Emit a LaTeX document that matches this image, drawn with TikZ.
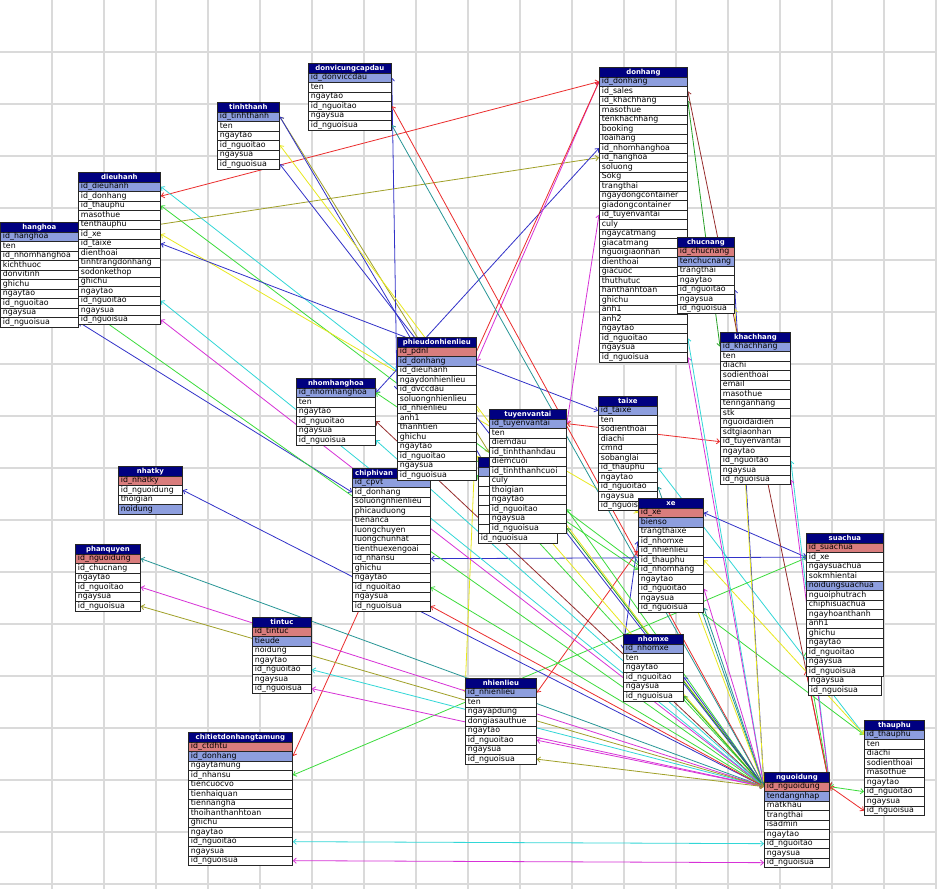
\documentclass[tikz,border=0pt]{standalone}
\usepackage{fontspec}
\newfontfamily\tblfont{DejaVu Sans}
\usetikzlibrary{arrows.meta}

\definecolor{navyhead}{RGB}{0,0,128}
\definecolor{pkfill}{RGB}{217,125,125}
\definecolor{fkfill}{RGB}{141,158,222}
\definecolor{gridgray}{RGB}{218,218,218}
\definecolor{lnred}{RGB}{235,45,45}
\definecolor{lngreen}{RGB}{60,220,60}
\definecolor{lnblue}{RGB}{50,50,200}
\definecolor{lncyan}{RGB}{50,215,215}
\definecolor{lnmag}{RGB}{215,50,215}
\definecolor{lnyel}{RGB}{232,232,30}
\definecolor{lnolive}{RGB}{160,160,40}
\definecolor{lnteal}{RGB}{40,150,150}
\definecolor{lnbrown}{RGB}{150,45,45}
\definecolor{lndgreen}{RGB}{40,160,40}

\pgfdeclarelayer{grid}
\pgfdeclarelayer{links}
\pgfsetlayers{grid,links,main}

\newcommand{\rowfont}{\tblfont\fontsize{5.9}{6.5}\selectfont}
\newcommand{\headfont}{\tblfont\bfseries\fontsize{5.2}{6}\selectfont}

\tikzset{
  tblhead/.style={draw=black!85, fill=navyhead, text=white, font=\headfont,
    anchor=north west, minimum height=7.125pt, inner sep=0pt, line width=0.6pt},
  tblrow/.style={draw=black!85, fill=white, font=\rowfont, anchor=north west,
    minimum height=7.125pt, inner xsep=1.875pt, inner ysep=0pt, align=left,
    text height=4.2pt, text depth=1.3pt, line width=0.6pt},
  plainrow/.style={},
  pkrow/.style={fill=pkfill},
  fkrow/.style={fill=fkfill},
  gridline/.style={gridgray, line width=1.1pt},
  link/.style={{Straight Barb[length=2.2pt,width=4pt]}-{Straight Barb[length=2.2pt,width=4pt]}, line width=0.6pt}
}

% #1 name, #2 left, #3 top, #4 width (px), #5 title, #6 rows
\newcommand{\dbtable}[6]{%
  \pgfmathsetmacro{\tblW}{#4*0.75}%
  \pgfmathsetmacro{\tblw}{(#4-5)*0.75}%
  \node[tblhead, minimum width=\tblW pt] (#1-0) at (#2,#3) {#5};
  \foreach \st/\tx [count=\i] in {#6} {
    \node[tblrow, \st, text width=\tblw pt] (#1-\i) at (#2,{#3+9.5*\i}) {\tx};
  }%
}

\begin{document}
\begin{tikzpicture}[x=0.75pt, y=-0.75pt]
\useasboundingbox (0,0) rectangle (937,889);

\begin{pgfonlayer}{grid}
  \fill[white] (0,0) rectangle (937,889);
  \foreach \g in {52,104,...,936} \draw[gridline] (\g,0) -- (\g,889);
  \foreach \g in {52,104,...,884} \draw[gridline] (0,\g) -- (937,\g);
\end{pgfonlayer}

\dbtable{hh}{0}{222}{78}{hanghoa}{fkrow/id\_hanghoa, plainrow/ten, plainrow/id\_nhomhanghoa, plainrow/kichthuoc, plainrow/donvitinh, plainrow/ghichu, plainrow/ngaytao, plainrow/id\_nguoitao, plainrow/ngaysua, plainrow/id\_nguoisua}
\dbtable{dh}{78}{172}{82}{dieuhanh}{fkrow/id\_dieuhanh, plainrow/id\_donhang, plainrow/id\_thauphu, plainrow/masothue, plainrow/tenthauphu, plainrow/id\_xe, plainrow/id\_taixe, plainrow/dienthoai, plainrow/tinhtrangdonhang, plainrow/sodonkethop, plainrow/ghichu, plainrow/ngaytao, plainrow/id\_nguoitao, plainrow/ngaysua, plainrow/id\_nguoisua}
\dbtable{tt}{217}{102}{62}{tinhthanh}{fkrow/id\_tinhthanh, plainrow/ten, plainrow/ngaytao, plainrow/id\_nguoitao, plainrow/ngaysua, plainrow/id\_nguoisua}
\dbtable{dv}{308}{63}{83}{donvicungcapdau}{fkrow/id\_donviccdau, plainrow/ten, plainrow/ngaytao, plainrow/id\_nguoitao, plainrow/ngaysua, plainrow/id\_nguoisua}
\dbtable{don}{599}{67}{88}{donhang}{fkrow/id\_donhang, plainrow/id\_sales, plainrow/id\_khachhang, plainrow/masothue, plainrow/tenkhachhang, plainrow/booking, plainrow/loaihang, plainrow/id\_nhomhanghoa, plainrow/id\_hanghoa, plainrow/soluong, plainrow/Sokg, plainrow/trangthai, plainrow/ngaydongcontainer, plainrow/giadongcontainer, plainrow/id\_tuyenvantai, plainrow/culy, plainrow/ngaycatmang, plainrow/giacatmang, plainrow/nguoigiaonhan, plainrow/dienthoai, plainrow/giacuoc, plainrow/thuthutuc, plainrow/hanthanhtoan, plainrow/ghichu, plainrow/anh1, plainrow/anh2, plainrow/ngaytao, plainrow/id\_nguoitao, plainrow/ngaysua, plainrow/id\_nguoisua}
\dbtable{cn}{677}{237}{57}{chucnang}{pkrow/id\_chucnang, fkrow/tenchucnang, plainrow/trangthai, plainrow/ngaytao, plainrow/id\_nguoitao, plainrow/ngaysua, plainrow/id\_nguoisua}
\dbtable{kh}{720}{332}{70}{khachhang}{fkrow/id\_khachhang, plainrow/ten, plainrow/diachi, plainrow/sodienthoai, plainrow/email, plainrow/masothue, plainrow/tennganhang, plainrow/stk, plainrow/nguoidaidien, plainrow/sdtgiaonhan, plainrow/id\_tuyenvantai, plainrow/ngaytao, plainrow/id\_nguoitao, plainrow/ngaysua, plainrow/id\_nguoisua}
\dbtable{cp}{352}{468}{78}{chiphivan\hspace*{26pt}}{fkrow/id\_cpvt, plainrow/id\_donhang, plainrow/soluongnhienlieu, plainrow/phicauduong, plainrow/tienanca, plainrow/luongchuyen, plainrow/luongchunhat, plainrow/tienthuexengoai, plainrow/id\_nhansu, plainrow/ghichu, plainrow/ngaytao, plainrow/id\_nguoitao, plainrow/ngaysua, plainrow/id\_nguoisua}
\dbtable{pd}{397}{337}{79}{phieudonhienlieu}{pkrow/id\_pdnl, fkrow/id\_donhang, plainrow/id\_dieuhanh, plainrow/ngaydonhienlieu, plainrow/id\_dvccdau, plainrow/soluongnhienlieu, plainrow/id\_nhienlieu, plainrow/anh1, plainrow/thanhtien, plainrow/ghichu, plainrow/ngaytao, plainrow/id\_nguoitao, plainrow/ngaysua, plainrow/id\_nguoisua}
\dbtable{nh}{296}{378}{79}{nhomhanghoa}{fkrow/id\_nhomhanghoa, plainrow/ten, plainrow/ngaytao, plainrow/id\_nguoitao, plainrow/ngaysua, plainrow/id\_nguoisua}
\dbtable{an}{478}{457}{79}{}{fkrow/{}, plainrow/{}, plainrow/{}, plainrow/{}, plainrow/{}, plainrow/{}, plainrow/{}, plainrow/id\_nguoisua}
\dbtable{tv}{489}{409}{77}{tuyenvantai}{fkrow/id\_tuyenvantai, plainrow/ten, plainrow/diemdau, plainrow/id\_tinhthanhdau, plainrow/diemcuoi, plainrow/id\_tinhthanhcuoi, plainrow/culy, plainrow/thoigian, plainrow/ngaytao, plainrow/id\_nguoitao, plainrow/ngaysua, plainrow/id\_nguoisua}
\dbtable{tx}{598}{396}{59}{taixe}{fkrow/id\_taixe, plainrow/ten, plainrow/sodienthoai, plainrow/diachi, plainrow/cmnd, plainrow/sobanglai, plainrow/id\_thauphu, plainrow/ngaytao, plainrow/id\_nguoitao, plainrow/ngaysua, plainrow/id\_nguoisua}
\dbtable{nk}{118}{466}{64}{nhatky}{pkrow/id\_nhatky, plainrow/id\_nguoidung, plainrow/thoigian, fkrow/noidung}
\dbtable{pq}{75}{544}{65}{phanquyen}{pkrow/id\_nguoidung, plainrow/id\_chucnang, plainrow/ngaytao, plainrow/id\_nguoitao, plainrow/ngaysua, plainrow/id\_nguoisua}
\dbtable{xe}{638}{498}{65}{xe}{pkrow/id\_xe, fkrow/bienso, plainrow/trangthaixe, plainrow/id\_nhomxe, plainrow/id\_nhienlieu, plainrow/id\_thauphu, plainrow/id\_nhomhang, plainrow/ngaytao, plainrow/id\_nguoitao, plainrow/ngaysua, plainrow/id\_nguoisua}
\dbtable{ns}{808}{542.5}{73}{}{pkrow/{}, plainrow/{}, plainrow/{}, plainrow/{}, plainrow/{}, plainrow/{}, plainrow/{}, plainrow/{}, plainrow/{}, plainrow/{}, plainrow/{}, plainrow/{}, plainrow/{}, plainrow/ngaysua, plainrow/id\_nguoisua}
\dbtable{sc}{806}{533}{77}{suachua}{pkrow/id\_suachua, plainrow/id\_xe, plainrow/ngaysuachua, plainrow/sokmhientai, fkrow/noidungsuachua, plainrow/nguoiphutrach, plainrow/chiphisuachua, plainrow/ngayhoanthanh, plainrow/anh1, plainrow/ghichu, plainrow/ngaytao, plainrow/id\_nguoitao, plainrow/ngaysua, plainrow/id\_nguoisua}
\dbtable{ti}{252}{617}{59}{tintuc}{pkrow/id\_tintuc, fkrow/tieude, plainrow/noidung, plainrow/ngaytao, plainrow/id\_nguoitao, plainrow/ngaysua, plainrow/id\_nguoisua}
\dbtable{nl}{465}{678}{71}{nhienlieu}{fkrow/id\_nhienlieu, plainrow/ten, plainrow/ngayapdung, plainrow/dongiasauthue, plainrow/ngaytao, plainrow/id\_nguoitao, plainrow/ngaysua, plainrow/id\_nguoisua}
\dbtable{nx}{623}{634}{60}{nhomxe}{fkrow/id\_nhomxe, plainrow/ten, plainrow/ngaytao, plainrow/id\_nguoitao, plainrow/ngaysua, plainrow/id\_nguoisua}
\dbtable{ct}{188}{732}{104}{chitietdonhangtamung}{pkrow/id\_ctdhtu, fkrow/id\_donhang, plainrow/ngaytamung, plainrow/id\_nhansu, plainrow/tiencuocvo, plainrow/tienhaiquan, plainrow/tiennangha, plainrow/thoihanthanhtoan, plainrow/ghichu, plainrow/ngaytao, plainrow/id\_nguoitao, plainrow/ngaysua, plainrow/id\_nguoisua}
\dbtable{nd}{764}{772}{65}{nguoidung}{pkrow/id\_nguoidung, fkrow/tendangnhap, plainrow/matkhau, plainrow/trangthai, plainrow/isadmin, plainrow/ngaytao, plainrow/id\_nguoitao, plainrow/ngaysua, plainrow/id\_nguoisua}
\dbtable{tp}{864}{720}{60}{thauphu}{fkrow/id\_thauphu, plainrow/ten, plainrow/diachi, plainrow/sodienthoai, plainrow/masothue, plainrow/ngaytao, plainrow/id\_nguoitao, plainrow/ngaysua, plainrow/id\_nguoisua}

\begin{pgfonlayer}{links}
  % keys between tables
  \draw[link, lnred] (dh-2.east) -- (don-1.west);
  \draw[link, lncyan] (dh-1.east) -- (pd-3.west);
  \draw[link, lngreen] (dh-3.east) -- (tp-1.west);
  \draw[link, lnolive] (hh-1.east) -- (don-9.west);
  \draw[link, lnyel] (dh-6.east) -- (xe-1.west);
  \draw[link, lnblue] (dh-7.east) -- (tx-1.west);
  \draw[link, lnblue] (nh-1.east) -- (don-8.west);
  \draw[link, lnolive] (tt-1.east) -- (tv-4.west);
  \draw[link, lnblue] (tt-1.east) -- (tv-6.west);
  \draw[link, lnblue] (dv-1.east) -- (pd-5.west);
  \draw[link, lnmag] (pd-2.east) -- (don-1.west);
  \draw[link, lnyel] (pd-7.east) -- (nl-1.west);
  \draw[link, lndgreen] (don-3.east) -- (kh-1.west);
  \draw[link, lnmag] (don-15.west) -- (tv-1.east);
  \draw[link, lnred] (kh-11.west) -- (tv-1.east);
  \draw[link, lncyan] (tx-7.east) -- (tp-1.west);
  \draw[link, lnblue] (xe-1.east) -- (sc-2.west);
  \draw[link, lnyel] (xe-6.east) -- (tp-1.west);
  \draw[link, lnblue] (xe-4.west) -- (nx-1.west);
  \draw[link, lnred] (xe-5.west) -- (nl-1.east);
  \draw[link, lngreen] (xe-7.west) -- (nh-1.east);
  \draw[link, lnblue] (hh-10.east) -- (cp-2.west);
  \draw[link, lnred] (ct-2.east) -- (don-1.west);
  \draw[link, lngreen] (ct-4.east) -- (ns-1.west);
  \draw[link, lnblue] (cp-9.east) -- (ns-1.west);
  \draw[link, lnblue] (nk-2.east) -- (nd-1.west);
  \draw[link, lnteal] (pq-1.east) -- (nd-1.west);
  % nguoitao / nguoisua
  \foreach \src/\col in {hh-8/lngreen, dh-13/lncyan, dh-15/lnmag, tt-4/lnyel, tt-6/lnblue,
      dv-4/lnred, dv-6/lnteal, don-28/lncyan, don-30/lnmag, cn-5/lnblue, cn-7/lnyel,
      pd-12/lnyel, pd-14/lngreen, nh-4/lnbrown, nh-6/lncyan, tv-10/lngreen, tv-12/lndgreen,
      tx-9/lnteal, tx-11/lnyel, cp-12/lngreen, cp-14/lnred, xe-9/lnmag, xe-11/lnteal,
      ti-5/lncyan, ti-7/lnmag, nl-6/lnmag, nl-8/lnolive, nx-4/lnblue, nx-6/lndgreen,
      pq-4/lnmag, pq-6/lnolive}
    \draw[link, \col] (\src.east) -- (nd-1.west);
  \foreach \src/\col in {kh-13/lncyan, kh-15/lnmag, don-2/lnbrown}
    \draw[link, \col] (\src.east) -- (nd-1.east);
  \foreach \src/\col in {sc-12/lngreen, sc-14/lnred}
    \draw[link, \col] (\src.west) -- (nd-1.east);
  \draw[link, lngreen] (nd-1.east) -- (tp-7.west);
  \draw[link, lnred] (nd-1.east) -- (tp-9.west);
  \draw[link, lncyan] (ct-11.east) -- (nd-7.west);
  \draw[link, lnmag] (ct-13.east) -- (nd-9.west);
\end{pgfonlayer}
\end{tikzpicture}
\end{document}
